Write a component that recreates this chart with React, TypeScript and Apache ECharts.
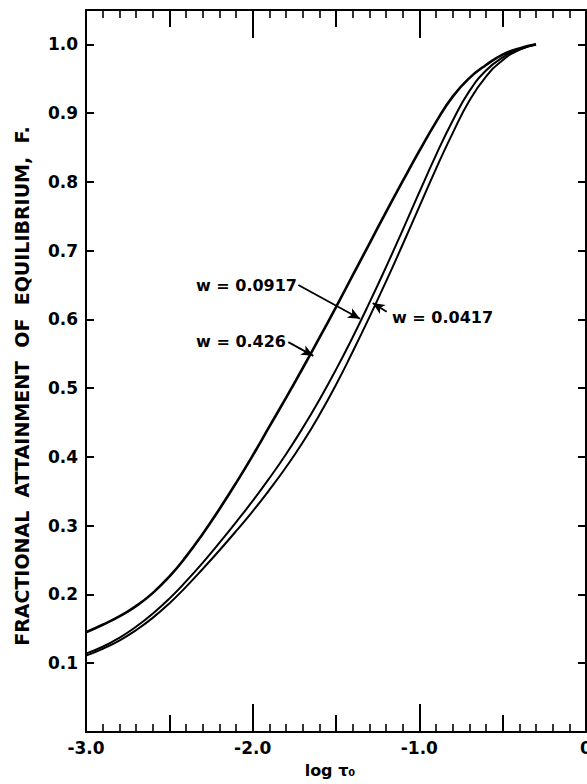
import React, { useEffect, useRef } from "react";
import * as echarts from "echarts";

// ---- Data ----
const logTau = [
  -3.0, -2.9, -2.8, -2.7, -2.6, -2.5, -2.4, -2.3, -2.2, -2.1,
  -2.0, -1.9, -1.8, -1.7, -1.6, -1.5, -1.4, -1.3, -1.2, -1.1,
  -1.0, -0.9, -0.8, -0.7, -0.6, -0.5, -0.4, -0.3,
];
const fW0426 = [
  0.145, 0.156, 0.168, 0.183, 0.202, 0.226, 0.255, 0.288, 0.324, 0.362,
  0.402, 0.444, 0.486, 0.529, 0.573, 0.618, 0.664, 0.710, 0.756, 0.801,
  0.845, 0.887, 0.924, 0.951, 0.970, 0.985, 0.994, 1.0,
];
const fW00917 = [
  0.114, 0.124, 0.137, 0.153, 0.172, 0.194, 0.219, 0.246, 0.275, 0.305,
  0.336, 0.369, 0.404, 0.442, 0.483, 0.527, 0.574, 0.624, 0.676, 0.730,
  0.785, 0.839, 0.889, 0.932, 0.962, 0.981, 0.993, 1.0,
];
const fW00417 = [
  0.111, 0.121, 0.133, 0.148, 0.166, 0.187, 0.211, 0.237, 0.264, 0.292,
  0.321, 0.352, 0.385, 0.421, 0.461, 0.505, 0.553, 0.603, 0.655, 0.709,
  0.764, 0.819, 0.871, 0.918, 0.953, 0.977, 0.992, 1.0,
];

const xTickValues = [-3, -2, -1, 0];
const xTickLabels = ["-3.0", "-2.0", "-1.0", "0"];
const yTickValues = [0.1, 0.2, 0.3, 0.4, 0.5, 0.6, 0.7, 0.8, 0.9, 1.0];
const yTickLabels = ["0.1", "0.2", "0.3", "0.4", "0.5", "0.6", "0.7", "0.8", "0.9", "1.0"];

const xTitle = "log τ₀";
const yTitle = "FRACTIONAL  ATTAINMENT  OF  EQUILIBRIUM,  F.";

const annotationTexts = ["w = 0.0917", "w = 0.426", "w = 0.0417"];
// arrow start / end in data units (log tau, F)
const arrowStarts = [[-1.726, 0.650], [-1.786, 0.567], [-1.196, 0.611]];
const arrowEnds = [[-1.356, 0.601], [-1.636, 0.547], [-1.280, 0.624]];

const FONT = '"DejaVu Sans", "Liberation Sans", sans-serif';

function zip(xs: number[], ys: number[]) {
  return xs.map((x, i) => [x, ys[i]]);
}

function labelFor(values: number[], labels: string[], v: number) {
  for (let i = 0; i < values.length; i++) {
    if (Math.abs(values[i] - v) < 1e-6) return labels[i];
  }
  return "";
}

export default function App() {
  const ref = useRef<HTMLDivElement>(null);

  useEffect(() => {
    if (!ref.current) return;
    const chart = echarts.init(ref.current, undefined, { renderer: "svg" });

    const black = "#000";
    const baseX = {
      type: "value",
      min: -3,
      max: 0,
      gridIndex: 0,
      splitLine: { show: false },
    };
    const majorX = (position: string, showLabel: boolean) => ({
      ...baseX,
      position,
      interval: 1,
      axisLine: { show: true, onZero: false, lineStyle: { color: black, width: 2 } },
      axisTick: { show: true, inside: true, length: 28, lineStyle: { color: black, width: 2 } },
      axisLabel: {
        show: showLabel,
        color: black,
        fontSize: 17,
        fontWeight: "bold",
        fontFamily: FONT,
        margin: 7,
        formatter: (v: number) => labelFor(xTickValues, xTickLabels, v),
      },
    });
    const minorX = (position: string) => ({
      ...baseX,
      position,
      interval: 0.5,
      axisLine: { show: false, onZero: false },
      axisTick: { show: true, inside: true, length: 17, lineStyle: { color: black, width: 2 } },
      minorTick: { show: true, splitNumber: 5, length: 8, lineStyle: { color: black, width: 1.6 } },
      axisLabel: { show: false },
    });
    const yAx = (position: string, showLabel: boolean) => ({
      type: "value",
      position,
      min: 0,
      max: 1.05,
      interval: 0.1,
      splitLine: { show: false },
      axisLine: { show: true, onZero: false, lineStyle: { color: black, width: 2 } },
      axisTick: { show: true, inside: true, length: 8, lineStyle: { color: black, width: 2 } },
      axisLabel: {
        show: showLabel,
        color: black,
        fontSize: 17,
        fontWeight: "bold",
        fontFamily: FONT,
        margin: 8,
        formatter: (v: number) => labelFor(yTickValues, yTickLabels, v),
      },
    });

    const lineSeries = (name: string, data: number[], width: number) => ({
      name,
      type: "line",
      xAxisIndex: 0,
      yAxisIndex: 0,
      data: zip(logTau, data),
      smooth: 0.5,
      symbol: "none",
      lineStyle: { color: black, width },
      silent: true,
    });

    const arrows = arrowStarts.map((s, i) => [
      { coord: s },
      { coord: arrowEnds[i] },
    ]);

    const s426 = lineSeries("w = 0.426", fW0426, 2.6);
    const s0917: any = lineSeries("w = 0.0917", fW00917, 2);
    const s0417 = lineSeries("w = 0.0417", fW00417, 2);
    s0917.markLine = {
      silent: true,
      symbol: ["none", "arrow"],
      symbolSize: [8, 12],
      label: { show: false },
      lineStyle: { color: black, width: 1.8, type: "solid" },
      emphasis: { disabled: true },
      data: arrows,
    };

    const annotationPos = [
      { x: 297, y: 285, align: "right" },
      { x: 286, y: 341, align: "right" },
      { x: 392, y: 317, align: "left" },
    ];

    chart.setOption({
      animation: false,
      backgroundColor: "#fff",
      grid: { left: 86, right: 1, top: 10, bottom: 52, containLabel: false, outerBoundsMode: "none" },
      xAxis: [majorX("bottom", true), minorX("bottom"), majorX("top", false), minorX("top")],
      yAxis: [yAx("left", true), yAx("right", false)],
      series: [s426, s0917, s0417],
      graphic: [
        {
          type: "text",
          x: 22,
          y: 386,
          rotation: Math.PI / 2,
          style: {
            text: yTitle,
            fill: black,
            fontSize: 19,
            fontWeight: "bold",
            fontFamily: FONT,
            align: "center",
            verticalAlign: "middle",
          },
        },
        {
          type: "text",
          x: 330,
          y: 770,
          style: {
            text: xTitle,
            fill: black,
            fontSize: 16,
            fontWeight: "bold",
            fontFamily: FONT,
            align: "center",
            verticalAlign: "middle",
          },
        },
        ...annotationTexts.map((t, i) => ({
          type: "text",
          x: annotationPos[i].x,
          y: annotationPos[i].y,
          style: {
            text: t,
            fill: black,
            fontSize: 16,
            fontWeight: "bold",
            fontFamily: FONT,
            align: annotationPos[i].align,
            verticalAlign: "middle",
          },
        })),
      ],
    });

    return () => chart.dispose();
  }, []);

  return (
    <div
      ref={ref}
      style={{ position: "fixed", left: 0, top: 0, width: 587, height: 784, background: "#fff" }}
    />
  );
}
